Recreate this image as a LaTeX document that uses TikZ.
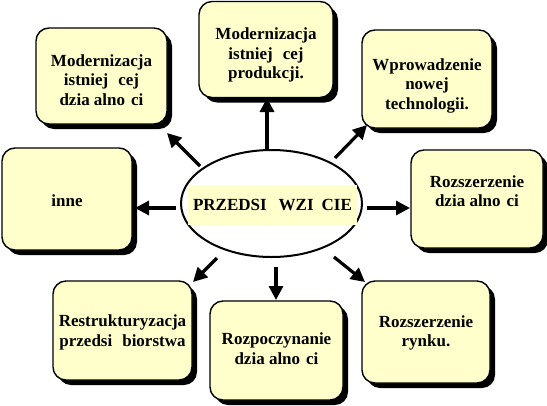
\documentclass[tikz,border=0pt]{standalone}
\usepackage{fontspec}
\setmainfont{Liberation Serif}
\usetikzlibrary{arrows.meta,shadows,shapes.geometric}
\definecolor{boxyellow}{RGB}{255,255,204}
\newcommand\liftedtext[2]{\raisebox{#1}[\height][\depth]{\begin{tabular}{@{}c@{}}#2\end{tabular}}}
\tikzset{
  idea/.style={draw=black, line width=1.4pt, fill=boxyellow, rounded corners=13pt,
    drop shadow={shadow xshift=5pt, shadow yshift=-5pt, fill=black, opacity=1},
    inner sep=0pt, align=center, font=\bfseries\fontsize{17}{19.5}\selectfont},
  arr/.style={line width=3.2pt, -{Triangle[length=14pt,width=14pt]}},
  hub/.style={draw=black, line width=2pt, fill=white, ellipse, inner sep=0pt},
}
\begin{document}
\begin{tikzpicture}[x=1pt,y=-1pt]
\useasboundingbox[fill=white] (0,0) rectangle (547,405);
% boxes
\node[idea, minimum width=131pt, minimum height=96pt] (b1) at (101.5,76)
  {\liftedtext{-6pt}{Modernizacja\\istniej\hspace{10pt}cej\\dzia alno\hspace{6pt}ci}};
\node[idea, minimum width=134pt, minimum height=96pt] (b2) at (266,49.5)
  {\liftedtext{-6pt}{Modernizacja\\istniej\hspace{10pt}cej\\produkcji.}};
\node[idea, minimum width=130pt, minimum height=98pt] (b3) at (427,79)
  {\liftedtext{-7pt}{Wprowadzenie\\nowej\\technologii.}};
\node[idea, minimum width=130pt, minimum height=102pt] (b4) at (67,199)
  {\liftedtext{-4pt}{inne}};
\node[idea, minimum width=132pt, minimum height=98pt] (b6) at (477,199)
  {\liftedtext{6pt}{Rozszerzenie\\dzia alno\hspace{6pt}ci}};
\node[idea, minimum width=139pt, minimum height=99pt] (b7) at (122.5,330.5)
  {\liftedtext{-2pt}{Restrukturyzacja\\przedsi\hspace{10pt}biorstwa}};
\node[idea, minimum width=133pt, minimum height=99pt] (b8) at (276.5,350.5)
  {\liftedtext{0pt}{Rozpoczynanie\\dzia alno\hspace{6pt}ci}};
\node[idea, minimum width=128pt, minimum height=102pt] (b9) at (426,332)
  {\liftedtext{-1pt}{Rozszerzenie\\rynku.}};
% hub
\node[hub, minimum width=181pt, minimum height=107pt] (hub) at (271.5,203.5) {};
\node[fill=boxyellow, minimum width=169pt, minimum height=40pt, inner sep=0pt,
  font=\bfseries\fontsize{17}{19.5}\selectfont] (title) at (272.5,205)
  {PRZEDSI\hspace{12pt}WZI\hspace{8pt}CIE};
% arrow ends
\coordinate (s1) at (200,166);  \coordinate (e1) at (167,133);
\coordinate (s2) at (267,150);  \coordinate (e2) at (267,98);
\coordinate (s3) at (335,158);  \coordinate (e3) at (367,125);
\coordinate (s4) at (176,208);  \coordinate (e4) at (135,208);
\coordinate (s6) at (367,208);  \coordinate (e6) at (410,208);
\coordinate (s7) at (217,258);  \coordinate (e7) at (193,282);
\coordinate (s8) at (276,267);  \coordinate (e8) at (276,300);
\coordinate (s9) at (334,257);  \coordinate (e9) at (365,282);
\draw[arr] (s1) -- (e1);
\draw[arr] (s2) -- (e2);
\draw[arr] (s3) -- (e3);
\draw[arr] (s4) -- (e4);
\draw[arr] (s6) -- (e6);
\draw[arr] (s7) -- (e7);
\draw[arr] (s8) -- (e8);
\draw[arr] (s9) -- (e9);
\end{tikzpicture}
\end{document}
